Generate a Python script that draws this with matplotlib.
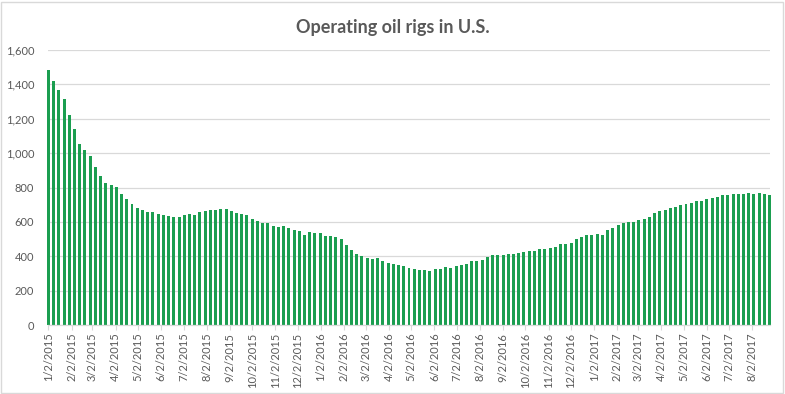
import numpy as np
import pandas as pd
import matplotlib
matplotlib.use('Agg')
import matplotlib.pyplot as plt
import matplotlib.dates as mdates
from matplotlib.ticker import FuncFormatter, MultipleLocator

# weekly U.S. oil rig counts, first week of 2015 through late Aug 2017
start_date = '2015-01-02'
rigs_2015 = [1482, 1421, 1366, 1317, 1223, 1140, 1056, 1019, 986, 922, 866, 825, 813,
             802, 760, 734, 703, 679, 668, 660, 659, 646, 642, 635, 628, 628, 640, 645,
             638, 659, 664, 670, 672, 674, 675, 662, 652, 644, 640, 614, 605, 595, 594,
             578, 572, 574, 564, 555, 545, 524, 541, 538, 536]
rigs_2016 = [516, 515, 510, 498, 467, 439, 413, 400, 392, 386, 387, 372, 362, 354, 351,
             343, 332, 328, 318, 318, 316, 325, 328, 337, 330, 341, 351, 357, 371, 374,
             381, 396, 406, 406, 407, 414, 416, 418, 425, 428, 432, 443, 441, 450, 452,
             471, 474, 477, 498, 510, 523, 525]
rigs_2017 = [529, 522, 551, 566, 583, 591, 597, 602, 609, 617, 631, 652, 662, 672, 683,
             688, 697, 703, 712, 720, 722, 733, 741, 747, 758, 756, 763, 765, 764, 766,
             765, 768, 763, 759]

rigs = rigs_2015 + rigs_2016 + rigs_2017
weeks = pd.date_range(start_date, periods=len(rigs), freq='7D')
tick_dates = pd.date_range('2015-01-01', '2017-08-01', freq='MS') + pd.Timedelta(days=1)

grey_text = '#595959'
grid_col = '#d9d9d9'
bar_col = '#1b9e50'

plt.rcParams['font.family'] = ['Lato', 'DejaVu Sans']

fig = plt.figure(figsize=(7.85, 3.94), dpi=100)
ax = fig.add_axes([48 / 785, 1 - 325 / 394, 722 / 785, 275 / 394])

ax.bar(weeks, rigs, width=4.0, color=bar_col, zorder=2, clip_on=False)

ax.set_ylim(0, 1600)
ax.yaxis.set_major_locator(MultipleLocator(200))
ax.yaxis.set_major_formatter(FuncFormatter(lambda v, p: '{:,.0f}'.format(v)))
ax.set_xlim(weeks[0] - pd.Timedelta(hours=12), weeks[-1] + pd.Timedelta(hours=12))
ax.set_xticks(tick_dates)
ax.xaxis.set_major_formatter(FuncFormatter(
    lambda v, p: '{d.month}/{d.day}/{d.year}'.format(d=mdates.num2date(v))))

ax.grid(axis='y', color=grid_col, linewidth=0.9, zorder=0)
for side in ['top', 'right', 'left']:
    ax.spines[side].set_visible(False)
ax.spines['bottom'].set_color(grid_col)
ax.spines['bottom'].set_linewidth(0.9)

ax.tick_params(axis='y', length=0, pad=10, labelsize=8, labelcolor=grey_text)
ax.tick_params(axis='x', length=3.5, width=0.8, color=grid_col, pad=2,
               labelsize=8, labelcolor=grey_text, labelrotation=90)

fig.text(0.5, 1 - 27 / 394, 'Operating oil rigs in U.S.', ha='center', va='center',
         fontsize=13, fontweight='bold', color=grey_text)

# chart border
fig.patches.append(plt.Rectangle((0.5 / 785, 1.5 / 394), 782 / 785, 391 / 394,
                                 transform=fig.transFigure, fill=False,
                                 edgecolor=grid_col, linewidth=1))

fig.savefig('out.png', dpi=100)
